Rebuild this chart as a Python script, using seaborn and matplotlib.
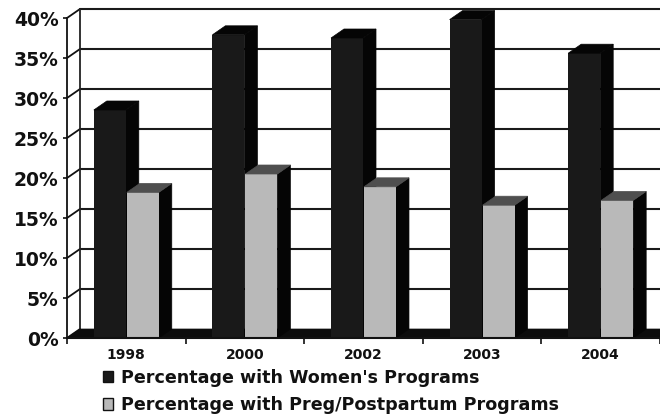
from matplotlib import pyplot as plt
from matplotlib.patches import Polygon
import pandas as pd
import seaborn as sn

years = ["1998", "2000", "2002", "2003", "2004"]
womens = [28.5, 37.9, 37.5, 39.8, 35.6]
preg = [18.2, 20.5, 18.9, 16.6, 17.2]
series_names = ["Percentage with Women's Programs", "Percentage with Preg/Postpartum Programs"]
y_ticks = [0, 5, 10, 15, 20, 25, 30, 35, 40]

df = pd.DataFrame({
    "year": years * 2,
    "value": womens + preg,
    "series": [series_names[0]] * 5 + [series_names[1]] * 5,
})

sn.set_style("white")
plt.rcParams["font.family"] = "DejaVu Sans"
plt.rcParams["font.weight"] = "bold"

fig = plt.figure(figsize=(6.6, 4.15), dpi=100)
ax = fig.add_axes([67 / 660, 1 - 338 / 415, 593 / 660, 320 / 415])

sn.barplot(data=df, x="year", y="value", hue="series", ax=ax, width=0.556, gap=0.03,
           palette=["#191919", "#b9b9b9"], saturation=1, legend=False, zorder=5, edgecolor="none")

ax.set_xlim(-0.5, 4.5)
ax.set_ylim(0, 40)

# depth of the fake 3d, px converted to data units
dx = 13 / 118.6
dy = 9 / 8


def poly(pts, color, z):
    ax.add_patch(Polygon(pts, closed=True, facecolor=color, edgecolor=color, lw=0.5, clip_on=False, zorder=z))


# floor
poly([(-0.5, 0), (-0.5 + dx, dy), (4.5, dy), (4.5, 0)], "#0c0c0c", 2)

# back wall grid and left wall
for t in y_ticks:
    if t > 0:
        ax.plot([-0.5 + dx, 4.5], [t + dy, t + dy], color="#1a1a1a", lw=1.5, clip_on=False, zorder=1)
    ax.plot([-0.5, -0.5 + dx], [t, t + dy], color="#111111", lw=1.3, clip_on=False, zorder=1)
ax.plot([-0.5 + dx, -0.5 + dx], [dy, 40 + dy], color="#222222", lw=1.3, clip_on=False, zorder=1)

# side and top of every bar, taken from the bars seaborn drew
for cont, top_color in zip(ax.containers, ["#050505", "#4f4f4f"]):
    for b in cont:
        x0, x1 = b.get_x(), b.get_x() + b.get_width()
        h = b.get_height()
        poly([(x1, 0), (x1 + dx, dy), (x1 + dx, h + dy), (x1, h)], "#050505", 4)
        poly([(x0, h), (x0 + dx, h + dy), (x1 + dx, h + dy), (x1, h)], top_color, 6)

for s in ["top", "right", "bottom"]:
    ax.spines[s].set_visible(False)
ax.spines["left"].set_color("#111111")
ax.spines["left"].set_linewidth(1.3)
ax.spines["left"].set_zorder(3)

ax.set_xlabel("")
ax.set_ylabel("")
ax.set_yticks(y_ticks)
ax.set_yticklabels([f"{t}%" for t in y_ticks], fontsize=13.5, fontweight="bold", color="#111111")
ax.set_xticks([i - 0.5 for i in range(6)], minor=True)
ax.set_xticks(range(5))
ax.set_xticklabels(years, fontsize=10, fontweight="bold", color="#111111")
ax.tick_params(axis="x", which="major", length=0, pad=7)
ax.tick_params(axis="x", which="minor", length=4, width=1.2, color="#111111", bottom=True)
ax.tick_params(axis="y", length=3, width=1.2, color="#111111", left=True, pad=3)
ax.plot([-0.5, 4.5], [0, 0], color="#111111", lw=1.5, clip_on=False, zorder=7)

# legend, built by hand from the two colours
handles = [plt.Rectangle((0, 0), 1, 1, facecolor="#191919", edgecolor="#111111"),
           plt.Rectangle((0, 0), 1, 1, facecolor="#b9b9b9", edgecolor="#111111")]
fig.legend(handles, series_names, loc="upper left", bbox_to_anchor=(87 / 660, 1 - 353 / 415), frameon=False,
           fontsize=12.6, handlelength=0.6, handleheight=0.6, handletextpad=0.42, labelspacing=0.54,
           labelcolor="#111111")

fig.savefig("out.png", dpi=100)
